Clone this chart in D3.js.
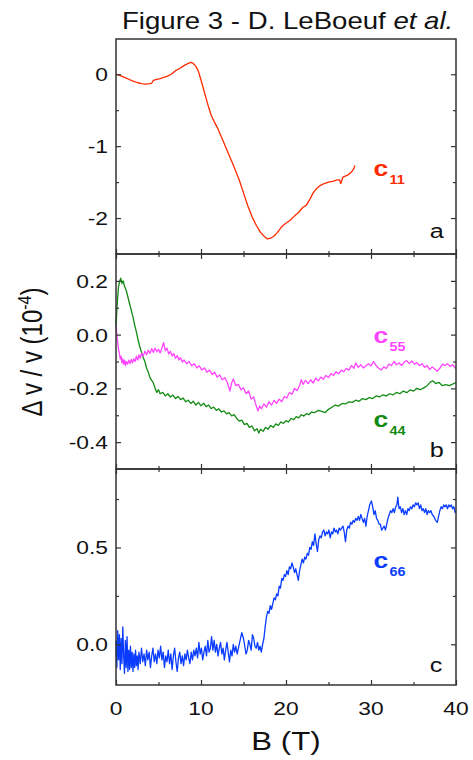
<!DOCTYPE html>
<html>
<head>
<meta charset="utf-8">
<script src="https://cdn.jsdelivr.net/npm/d3@7"></script>
<style>
  body { margin: 0; background: #fff; }
  svg { display: block; font-family: "Liberation Sans", Arial, sans-serif; }
</style>
</head>
<body>
<svg id="chart" width="473" height="760"></svg>
<script>
// values: [B (T), dv/v (1e-4)]
const c11 = [[0,0],[0.5,-0.02],[1,-0.045],[1.5,-0.07],[2,-0.095],[2.5,-0.115],[3,-0.13],[3.5,-0.138],[4,-0.132],[4.2,-0.125],[4.4,-0.085],[4.8,-0.072],[5.2,-0.06],[5.6,-0.045],[6,-0.03],[6.5,0.0],[7,0.05],[7.5,0.08],[8,0.12],[8.5,0.15],[8.8,0.165],[9.1,0.15],[9.4,0.11],[9.7,0.04],[10,-0.08],[10.4,-0.25],[10.8,-0.42],[11.2,-0.57],[11.6,-0.67],[12.0,-0.76],[12.5,-0.9],[13,-1.04],[13.5,-1.18],[14,-1.32],[14.5,-1.47],[15,-1.65],[15.5,-1.83],[16,-1.98],[16.5,-2.1],[17,-2.2],[17.4,-2.25],[17.8,-2.29],[18.2,-2.28],[18.6,-2.25],[19,-2.2],[19.5,-2.12],[19.7,-2.1],[19.9,-2.08],[20.5,-2.03],[21,-1.97],[21.5,-1.92],[22,-1.85],[22.4,-1.82],[22.8,-1.74],[23.2,-1.65],[23.6,-1.59],[24,-1.55],[24.5,-1.52],[25,-1.5],[25.5,-1.49],[26,-1.47],[26.3,-1.47],[26.45,-1.52],[26.7,-1.43],[27.3,-1.4],[27.7,-1.36],[28.0,-1.31],[28.1,-1.27]];

const c44 = [[0,0.03],[0.1,0.09],[0.2,0.14],[0.3,0.18],[0.45,0.2],[0.55,0.21],[0.7,0.19],[0.85,0.2],[1.0,0.18],[1.2,0.165],[1.4,0.14],[1.6,0.115],[1.8,0.09],[2.0,0.065],[2.2,0.035],[2.4,0.01],[2.6,-0.02],[2.8,-0.045],[3.0,-0.065],[3.2,-0.085],[3.4,-0.1],[3.6,-0.125],[3.8,-0.14],[4.0,-0.16],[4.2,-0.17],[4.4,-0.18],[4.6,-0.2],[4.8,-0.215],[5.0,-0.205],[5.2,-0.22],[5.5,-0.215],[5.8,-0.228],[6.1,-0.22],[6.4,-0.232],[6.7,-0.225],[7.0,-0.238],[7.3,-0.23],[7.6,-0.242],[7.9,-0.236],[8.2,-0.25],[8.5,-0.244],[8.8,-0.256],[9.1,-0.248],[9.4,-0.262],[9.7,-0.252],[10.0,-0.265],[10.3,-0.255],[10.6,-0.268],[10.9,-0.262],[11.2,-0.275],[11.5,-0.27],[11.8,-0.282],[12.1,-0.276],[12.4,-0.288],[12.7,-0.284],[13.0,-0.295],[13.3,-0.29],[13.6,-0.302],[13.9,-0.298],[14.2,-0.312],[14.5,-0.322],[14.8,-0.318],[15.1,-0.335],[15.4,-0.33],[15.7,-0.345],[16.0,-0.34],[16.3,-0.358],[16.6,-0.35],[16.8,-0.366],[17.0,-0.352],[17.3,-0.36],[17.6,-0.345],[17.9,-0.352],[18.2,-0.338],[18.5,-0.345],[18.8,-0.332],[19.1,-0.338],[19.4,-0.325],[19.7,-0.33],[20.0,-0.32],[20.3,-0.325],[20.6,-0.312],[20.9,-0.316],[21.2,-0.305],[21.5,-0.31],[21.8,-0.298],[22.1,-0.303],[22.4,-0.294],[22.7,-0.298],[23.0,-0.288],[23.4,-0.29],[23.8,-0.282],[24.2,-0.286],[24.6,-0.29],[25.0,-0.278],[25.4,-0.27],[25.8,-0.262],[26.2,-0.266],[26.6,-0.256],[27.0,-0.258],[27.4,-0.25],[27.8,-0.252],[28.2,-0.244],[28.6,-0.248],[29.0,-0.238],[29.4,-0.242],[29.8,-0.234],[30.2,-0.238],[30.6,-0.228],[31.0,-0.232],[31.4,-0.224],[31.8,-0.228],[32.2,-0.22],[32.6,-0.224],[33.0,-0.215],[33.4,-0.22],[33.8,-0.21],[34.2,-0.216],[34.6,-0.206],[35.0,-0.21],[35.4,-0.2],[35.8,-0.205],[36.2,-0.198],[36.6,-0.19],[37.0,-0.176],[37.3,-0.172],[37.6,-0.182],[38.0,-0.178],[38.4,-0.19],[38.8,-0.186],[39.2,-0.19],[39.6,-0.184],[40,-0.178]];

const c55 = [[0,0.03],[0.1,0.0],[0.2,-0.03],[0.3,-0.055],[0.4,-0.07],[0.5,-0.09],[0.6,-0.08],[0.7,-0.105],[0.8,-0.09],[0.9,-0.11],[1.0,-0.095],[1.1,-0.115],[1.2,-0.1],[1.35,-0.11],[1.5,-0.095],[1.65,-0.108],[1.8,-0.092],[1.95,-0.105],[2.1,-0.09],[2.25,-0.1],[2.4,-0.08],[2.55,-0.095],[2.7,-0.075],[2.85,-0.088],[3.0,-0.07],[3.2,-0.08],[3.4,-0.062],[3.6,-0.075],[3.8,-0.058],[4.0,-0.07],[4.2,-0.052],[4.4,-0.066],[4.6,-0.05],[4.8,-0.064],[5.0,-0.055],[5.2,-0.068],[5.4,-0.05],[5.6,-0.03],[5.8,-0.06],[6.0,-0.05],[6.2,-0.072],[6.4,-0.062],[6.6,-0.08],[6.8,-0.07],[7.0,-0.088],[7.2,-0.078],[7.4,-0.094],[7.6,-0.086],[7.8,-0.102],[8.0,-0.094],[8.3,-0.108],[8.6,-0.1],[8.9,-0.116],[9.2,-0.108],[9.5,-0.124],[9.8,-0.116],[10.1,-0.132],[10.4,-0.124],[10.7,-0.14],[11.0,-0.132],[11.3,-0.148],[11.6,-0.14],[11.9,-0.158],[12.2,-0.15],[12.5,-0.168],[12.8,-0.16],[13.1,-0.178],[13.4,-0.21],[13.6,-0.18],[13.8,-0.165],[14.1,-0.19],[14.4,-0.185],[14.7,-0.205],[15.0,-0.198],[15.3,-0.22],[15.6,-0.21],[15.9,-0.24],[16.2,-0.232],[16.5,-0.265],[16.7,-0.284],[16.9,-0.265],[17.1,-0.276],[17.4,-0.258],[17.7,-0.27],[18.0,-0.25],[18.3,-0.262],[18.6,-0.245],[18.9,-0.256],[19.2,-0.24],[19.5,-0.25],[19.8,-0.23],[20.1,-0.236],[20.4,-0.215],[20.7,-0.222],[21.0,-0.2],[21.3,-0.208],[21.6,-0.19],[21.8,-0.168],[22.0,-0.185],[22.3,-0.17],[22.6,-0.182],[22.9,-0.168],[23.2,-0.18],[23.5,-0.162],[23.8,-0.172],[24.1,-0.158],[24.4,-0.166],[24.7,-0.152],[25.0,-0.16],[25.3,-0.145],[25.6,-0.152],[25.9,-0.138],[26.2,-0.146],[26.5,-0.132],[26.8,-0.138],[27.1,-0.126],[27.4,-0.132],[27.7,-0.115],[28.0,-0.125],[28.2,-0.105],[28.5,-0.122],[28.8,-0.112],[29.1,-0.124],[29.4,-0.116],[29.7,-0.108],[30.0,-0.116],[30.3,-0.1],[30.6,-0.115],[30.9,-0.125],[31.2,-0.132],[31.5,-0.12],[31.8,-0.126],[32.1,-0.11],[32.4,-0.115],[32.7,-0.1],[33.0,-0.112],[33.3,-0.105],[33.6,-0.115],[33.9,-0.102],[34.2,-0.097],[34.5,-0.108],[34.8,-0.098],[35.1,-0.11],[35.4,-0.104],[35.7,-0.115],[36.0,-0.108],[36.3,-0.122],[36.6,-0.115],[36.9,-0.13],[37.2,-0.12],[37.5,-0.128],[37.8,-0.136],[38.1,-0.125],[38.4,-0.11],[38.7,-0.115],[39.0,-0.108],[39.3,-0.118],[39.6,-0.112],[40,-0.127]];

const c66 = [[0,0.02],[0.1,-0.12],[0.2,0.07],[0.3,-0.08],[0.4,0.05],[0.5,-0.13],[0.6,0.03],[0.7,-0.1],[0.8,0.09],[0.9,-0.06],[1.0,-0.15],[1.1,0.02],[1.2,-0.12],[1.3,0.04],[1.4,-0.14],[1.5,-0.03],[1.6,-0.13],[1.7,-0.01],[1.8,-0.12],[1.9,-0.04],[2.0,-0.14],[2.1,-0.05],[2.2,-0.12],[2.3,-0.03],[2.4,-0.11],[2.5,-0.06],[2.6,-0.13],[2.7,-0.04],[2.85,-0.1],[3.0,-0.02],[3.15,-0.09],[3.3,-0.05],[3.45,-0.11],[3.6,-0.03],[3.75,-0.08],[3.9,-0.04],[4.05,-0.12],[4.2,-0.06],[4.35,-0.02],[4.5,-0.09],[4.65,-0.05],[4.8,-0.1],[4.95,-0.03],[5.1,-0.07],[5.25,-0.01],[5.4,-0.08],[5.55,-0.04],[5.7,-0.12],[5.85,-0.06],[6.0,-0.09],[6.15,-0.03],[6.3,-0.1],[6.45,-0.05],[6.6,-0.13],[6.75,-0.06],[6.9,-0.02],[7.05,-0.09],[7.2,-0.14],[7.35,-0.07],[7.5,-0.04],[7.65,-0.1],[7.8,-0.06],[7.95,-0.11],[8.1,-0.05],[8.25,-0.08],[8.4,-0.03],[8.55,-0.07],[8.7,-0.1],[8.85,-0.04],[9.0,-0.08],[9.15,-0.03],[9.3,-0.06],[9.45,-0.02],[9.6,-0.07],[9.75,0.01],[9.9,-0.05],[10.05,-0.02],[10.2,-0.08],[10.35,-0.04],[10.5,-0.01],[10.65,-0.06],[10.8,0.02],[10.95,-0.04],[11.1,-0.02],[11.25,0.04],[11.4,-0.03],[11.55,0.02],[11.7,-0.04],[11.85,0.0],[12.0,-0.06],[12.15,-0.02],[12.3,0.01],[12.45,-0.05],[12.6,-0.02],[12.75,-0.08],[12.9,-0.03],[13.05,0.01],[13.2,-0.04],[13.35,-0.09],[13.5,-0.03],[13.65,-0.06],[13.8,0.0],[13.95,-0.04],[14.1,-0.01],[14.25,-0.05],[14.4,-0.02],[14.6,0.02],[14.8,0.06],[15.0,0.03],[15.15,-0.01],[15.3,-0.05],[15.45,-0.03],[15.6,0.02],[15.75,0.0],[15.9,-0.03],[16.05,0.05],[16.2,0.03],[16.35,-0.01],[16.5,-0.02],[16.65,0.01],[16.8,-0.03],[16.95,-0.01],[17.1,-0.04],[17.25,0.0],[17.4,0.03],[17.55,0.09],[17.7,0.14],[17.85,0.17],[18.0,0.16],[18.15,0.2],[18.3,0.18],[18.45,0.21],[18.6,0.24],[18.75,0.23],[18.9,0.26],[19.05,0.25],[19.2,0.3],[19.35,0.29],[19.5,0.34],[19.65,0.33],[19.8,0.36],[19.95,0.35],[20.1,0.38],[20.25,0.36],[20.4,0.4],[20.55,0.39],[20.7,0.42],[20.85,0.4],[21.0,0.37],[21.15,0.39],[21.3,0.36],[21.45,0.33],[21.6,0.38],[21.75,0.41],[21.9,0.44],[22.05,0.42],[22.2,0.45],[22.35,0.44],[22.5,0.47],[22.65,0.46],[22.8,0.5],[22.95,0.49],[23.1,0.53],[23.25,0.51],[23.4,0.57],[23.55,0.52],[23.7,0.48],[23.85,0.54],[24.0,0.56],[24.15,0.55],[24.3,0.58],[24.45,0.59],[24.6,0.56],[24.75,0.58],[24.9,0.57],[25.05,0.59],[25.2,0.55],[25.35,0.58],[25.5,0.57],[25.65,0.6],[25.8,0.58],[25.95,0.59],[26.1,0.57],[26.25,0.6],[26.4,0.59],[26.55,0.6],[26.7,0.61],[26.85,0.58],[27.0,0.53],[27.15,0.59],[27.3,0.61],[27.45,0.6],[27.6,0.63],[27.75,0.62],[27.9,0.64],[28.05,0.63],[28.2,0.65],[28.35,0.64],[28.5,0.66],[28.65,0.64],[28.8,0.67],[28.95,0.65],[29.1,0.63],[29.25,0.65],[29.4,0.61],[29.55,0.66],[29.7,0.69],[29.85,0.72],[30.05,0.74],[30.2,0.71],[30.35,0.67],[30.5,0.69],[30.65,0.65],[30.8,0.64],[30.95,0.62],[31.1,0.62],[31.25,0.59],[31.4,0.6],[31.55,0.61],[31.7,0.59],[31.85,0.62],[32.0,0.65],[32.15,0.67],[32.3,0.69],[32.45,0.68],[32.6,0.7],[32.75,0.68],[32.9,0.71],[33.05,0.72],[33.15,0.76],[33.3,0.7],[33.45,0.71],[33.6,0.68],[33.75,0.7],[33.9,0.67],[34.05,0.69],[34.2,0.67],[34.35,0.7],[34.5,0.69],[34.65,0.71],[34.8,0.7],[34.95,0.72],[35.1,0.71],[35.25,0.73],[35.4,0.72],[35.55,0.73],[35.7,0.7],[35.85,0.72],[36.0,0.69],[36.15,0.7],[36.3,0.68],[36.45,0.7],[36.6,0.67],[36.75,0.69],[36.9,0.68],[37.05,0.69],[37.2,0.67],[37.4,0.66],[37.6,0.64],[37.8,0.63],[37.95,0.66],[38.1,0.69],[38.25,0.71],[38.4,0.7],[38.55,0.72],[38.7,0.71],[38.85,0.72],[39.0,0.7],[39.15,0.72],[39.3,0.71],[39.45,0.72],[39.6,0.7],[39.75,0.71],[39.9,0.68],[40,0.69]];

const xMajor = [0, 10, 20, 30, 40];
const xMinor = [5, 15, 25, 35];

const panels = [
  { id: "a", top: 39, bottom: 254, domain: [-2.5, 0.49], major: [-2, -1, 0], minor: [-1.5, -0.5], digits: 0, topTicks: false,
    series: [{ data: c11, color: "#ff2a00", name: "11", at: [30.3, -1.42] }], letterAt: -2.28 },
  { id: "b", top: 254, bottom: 469, domain: [-0.5, 0.3], major: [-0.4, -0.2, 0, 0.2], minor: [-0.3, -0.1, 0.1], digits: 1, topTicks: true,
    series: [
      { data: c44, color: "#138a13", name: "44", at: [30.3, -0.343] },
      { data: c55, color: "#ff44ff", name: "55", at: [30.3, -0.032] }
    ], letterAt: -0.454 },
  { id: "c", top: 469, bottom: 685, domain: [-0.21, 0.905], major: [0, 0.5], minor: [0.25, 0.75], digits: 1, topTicks: true,
    series: [{ data: c66, color: "#0a3cff", name: "66", at: [30.3, 0.392] }], letterAt: -0.141 }
];

const SX = 1.2; // the original figure is stretched sideways
const ink = "#333";
const svg = d3.select("#chart");
const x = d3.scaleLinear().domain([0, 40]).range([116, 456]);

function stretched(sel, px, py, extra = "") {
  return sel.attr("transform", `translate(${px},${py}) scale(${SX},1) ${extra}`);
}

function tickAxis(axisFn, scale, values, size) {
  return axisFn(scale).tickValues(values).tickSize(size).tickFormat("");
}

function drawPanel(p) {
  const y = d3.scaleLinear().domain(p.domain).range([p.bottom, p.top]);
  const g = svg.append("g");

  // curves
  const line = d3.line().x(d => x(d[0])).y(d => y(d[1]));
  p.series.forEach(s => {
    g.append("path")
      .datum(s.data)
      .attr("fill", "none")
      .attr("stroke", s.color)
      .attr("stroke-width", 1.3)
      .attr("stroke-linejoin", "round")
      .attr("d", line);

    const t = stretched(g.append("text"), x(s.at[0]), y(s.at[1]))
      .attr("fill", s.color)
      .attr("font-weight", "bold")
      .attr("font-size", 22);
    t.append("tspan").text("c");
    t.append("tspan").attr("dx", 1).attr("dy", 8).attr("font-size", 12).text(s.name);
  });

  // ticks, all pointing into the frame
  const axes = [
    [d3.axisLeft, y, p.major, -5, "translate(116,0)"],
    [d3.axisLeft, y, p.minor, -3, "translate(116,0)"],
    [d3.axisRight, y, p.major, -5, "translate(456,0)"],
    [d3.axisRight, y, p.minor, -3, "translate(456,0)"],
    [d3.axisBottom, x, xMajor, -5, `translate(0,${p.bottom})`],
    [d3.axisBottom, x, xMinor, -3, `translate(0,${p.bottom})`]
  ];
  if (p.topTicks) {
    axes.push([d3.axisTop, x, xMajor, -5, `translate(0,${p.top})`]);
    axes.push([d3.axisTop, x, xMinor, -3, `translate(0,${p.top})`]);
  }
  axes.forEach(([fn, sc, vals, size, tr]) => {
    const a = g.append("g").attr("transform", tr).call(tickAxis(fn, sc, vals, size));
    a.select(".domain").remove();
    a.selectAll("line").attr("stroke", ink).attr("stroke-width", 1.2);
  });

  // y tick labels
  p.major.forEach(v => {
    stretched(g.append("text"), 108, y(v) + 7)
      .attr("text-anchor", "end")
      .attr("font-size", 19)
      .attr("fill", "#111")
      .text(v.toFixed(p.digits));
  });

  // frame
  g.append("rect")
    .attr("x", 116).attr("y", p.top)
    .attr("width", 340).attr("height", p.bottom - p.top)
    .attr("fill", "none").attr("stroke", ink).attr("stroke-width", 1.5);

  stretched(g.append("text"), x(36.9), y(p.letterAt))
    .attr("font-size", 21)
    .attr("fill", "#111")
    .text(p.id);
}

panels.forEach(drawPanel);

// x tick labels under the last panel
xMajor.forEach(v => {
  stretched(svg.append("text"), x(v), 715)
    .attr("text-anchor", "middle")
    .attr("font-size", 19)
    .attr("fill", "#111")
    .text(v);
});

stretched(svg.append("text"), x(20), 750)
  .attr("text-anchor", "middle")
  .attr("font-size", 26)
  .attr("fill", "#111")
  .text("B (T)");

const yl = stretched(svg.append("text"), 42, 352, "rotate(-90)")
  .attr("text-anchor", "middle")
  .attr("font-size", 24)
  .attr("fill", "#111");
yl.append("tspan").text("\u0394 v / v (10");
yl.append("tspan").attr("dy", -9).attr("font-size", 16).text("-4");
yl.append("tspan").attr("dy", 9).text(")");

const title = stretched(svg.append("text"), 122, 29)
  .attr("font-size", 23)
  .attr("fill", "#111");
title.append("tspan").text("Figure 3 - D. LeBoeuf ");
title.append("tspan").attr("font-style", "italic").text("et al.");
</script>
</body>
</html>
